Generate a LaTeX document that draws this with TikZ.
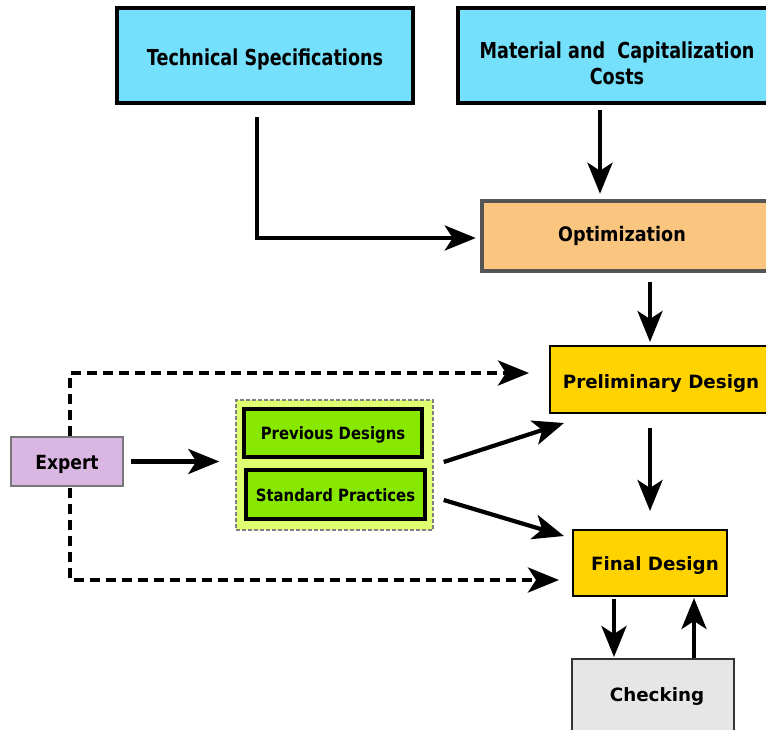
\documentclass[tikz,border=0pt]{standalone}
\usepackage{fontspec}
\setmainfont{DejaVu Sans}
\newfontfamily\topfont{DejaVu Sans}[FakeStretch=0.8]
\newfontfamily\condfont{DejaVu Sans}[FakeStretch=0.88]
\usetikzlibrary{arrows.meta}
\newcommand\lowerby[2]{\raisebox{0pt}[\dimexpr\height+#1\relax][\depth]{#2}}
\definecolor{cyanbox}{HTML}{75E0FC}
\definecolor{optfill}{HTML}{FAC57E}
\definecolor{optline}{HTML}{555555}
\definecolor{goldbox}{HTML}{FFD300}
\definecolor{checkfill}{HTML}{E6E6E6}
\definecolor{expfill}{HTML}{DAB6E2}
\definecolor{expline}{HTML}{777777}
\definecolor{grpfill}{HTML}{E0FF70}
\definecolor{grpline}{HTML}{808080}
\definecolor{greenbox}{HTML}{88E800}
\tikzset{
  box/.style={draw, rectangle, inner sep=0pt, font=\bfseries\fontsize{18.3}{20}\selectfont},
  topbox/.style={box, fill=cyanbox, line width=3.5pt, font=\topfont\bfseries\fontsize{22}{26}\selectfont, align=center},
  subbox/.style={box, fill=greenbox, line width=4pt, font=\condfont\bfseries\fontsize{16.9}{19}\selectfont},
  arr/.style={line width=4.2pt, -{Stealth[length=31pt,width=25pt,inset=8pt]}},
  darr/.style={arr, dash pattern=on 10pt off 6pt},
}
\begin{document}
\begin{tikzpicture}[x=1pt,y=-1pt]
\clip (0,0) rectangle (766,729);
\fill[white] (0,0) rectangle (766,729);
% top boxes
\node[topbox, minimum width=296pt, minimum height=95pt] (tech) at (265,55.5) {\lowerby{8pt}{Technical Specifications}};
\node[topbox, minimum width=330pt, minimum height=95pt] (mat) at (623,55.5)
  {\hspace*{-12pt}\lowerby{16pt}{Material and\ \ Capitalization}\\\hspace*{-12pt}Costs};
% optimization
\node[box, fill=optfill, draw=optline, line width=4.5pt, minimum width=318pt, minimum height=70pt,
  label={[font=\condfont\bfseries\fontsize{20}{22}\selectfont, xshift=-19pt, yshift=0pt]center:Optimization}] (opt) at (641,236) {};
% preliminary
\node[box, fill=goldbox, line width=2pt, minimum width=230pt, minimum height=67pt] (prelim) at (665,379.5)
  {\hspace*{-8pt}\lowerby{8pt}{Preliminary Design}};
% final
\node[box, fill=goldbox, line width=2pt, minimum width=154pt, minimum height=66pt] (final) at (650,563)
  {\hspace*{10pt}\lowerby{6pt}{Final Design}};
% checking
\node[box, fill=checkfill, draw=black!80, line width=2pt, minimum width=162pt, minimum height=80pt,
  label={[font=\bfseries\fontsize{18.3}{20}\selectfont, xshift=4pt, yshift=2pt]center:Checking}] (check) at (653,699) {};
% expert
\node[box, fill=expfill, draw=expline, line width=2pt, minimum width=112pt, minimum height=49pt,
  font=\condfont\bfseries\fontsize{19.5}{21}\selectfont] (expert) at (67,461.5) {\lowerby{6pt}{Expert}};
% group
\node[draw=grpline, fill=grpfill, dash pattern=on 4pt off 2pt, line width=1.5pt, minimum width=197pt, minimum height=130pt, inner sep=0pt] (group) at (334.5,465) {};
\node[subbox, minimum width=178pt, minimum height=48pt] (prev) at (333,433) {\lowerby{4pt}{Previous Designs}};
\node[subbox, minimum width=179pt, minimum height=49pt] (std) at (335.5,494.5) {\lowerby{2pt}{Standard Practices}};
% connectors
\draw[arr] ([shift={(-8,12)}]tech.south) |- ([shift={(-4,2)}]opt.west);
\coordinate (mx) at (600,0);
\draw[arr, shorten <=5pt, shorten >=5pt] (mx |- mat.south) -- (mx |- opt.north);
\coordinate (ox) at (650,0);
\draw[arr, shorten <=9pt, shorten >=3pt] (ox |- opt.south) -- (ox |- prelim.north);
\draw[arr, shorten <=14pt, shorten >=18pt] (ox |- prelim.south) -- (ox |- final.north);
\coordinate (fa) at (614,0);
\coordinate (fb) at (694,0);
\draw[arr, shorten <=2pt, shorten >=1pt] (fa |- final.south) -- (fa |- check.north);
\draw[arr, shorten >=1pt] (fb |- check.north) -- (fb |- final.south);
\draw[arr, shorten <=7pt, shorten >=16pt] (expert.east) -- (expert.east -| group.west);
\draw[arr] ([shift={(10,-3)}]group.east) -- ([shift={(15,9)}]prelim.south west);
\draw[arr] ([shift={(10,35)}]group.east) -- ([shift={(-8,7)}]final.north west);
\draw[darr] ([shift={(3,0)}]expert.north) |- ([shift={(-20,-6.5)}]prelim.west);
\draw[darr] ([shift={(3,1)}]expert.south) |- ([shift={(-13,-17)}]final.south west);
\end{tikzpicture}
\end{document}
